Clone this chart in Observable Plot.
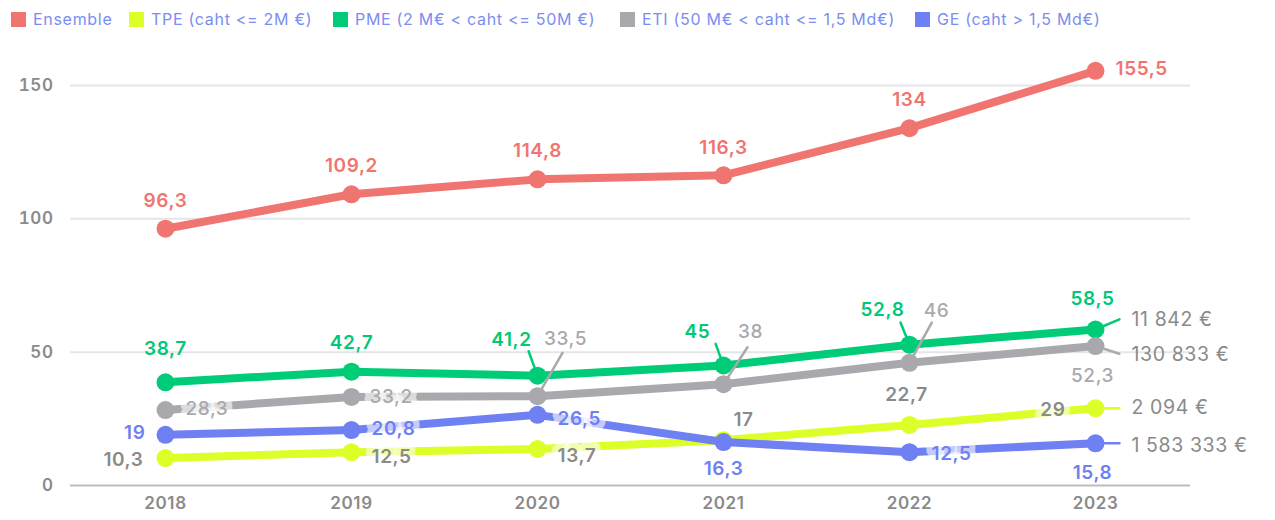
<!DOCTYPE html>
<html><head><meta charset="utf-8">
<script src="https://cdn.jsdelivr.net/npm/d3@7"></script>
<script src="https://cdn.jsdelivr.net/npm/@observablehq/plot@0.6"></script>
<style>
body{margin:0;background:#fff;font-family:Inter, "DejaVu Sans", sans-serif;}
#legend{position:relative;height:34px;}
.item{position:absolute;top:9px;display:flex;align-items:center;font-size:16px;letter-spacing:0.7px;color:#7b8ef0;white-space:nowrap;}
.sw{width:15px;height:15px;margin-right:7px;}
#chart svg text{letter-spacing:0.6px;}
#chart g[aria-label="endlabel"] text{letter-spacing:1.4px;}
</style></head><body>
<div id="legend"></div><div id="chart"></div>
<script>
const years = [2018, 2019, 2020, 2021, 2022, 2023];
const seriesNames = ["Ensemble", "TPE (caht <= 2M €)", "PME (2 M€ < caht <= 50M €)", "ETI (50 M€ < caht <= 1,5 Md€)", "GE (caht > 1,5 Md€)"];
const seriesColors = ["#f07571", "#dcff27", "#00cc78", "#a9a9ad", "#6f80f3"];
const labelColors = ["#f07571", "#8a8a8a", "#00c875", "#a9a9ad", "#6f80f3"];
const ensemble = [96.3, 109.2, 114.8, 116.3, 134, 155.5];
const tpe = [10.3, 12.5, 13.7, 17, 22.7, 29];
const pme = [38.7, 42.7, 41.2, 45, 52.8, 58.5];
const eti = [28.3, 33.2, 33.5, 38, 46, 52.3];
const ge = [19, 20.8, 26.5, 16.3, 12.5, 15.8];
const endLabels = [null, "2 094 €", "11 842 €", "130 833 €", "1 583 333 €"];
const yTicks = [0, 50, 100, 150];

const seriesValues = [ensemble, tpe, pme, eti, ge];

// label placement (styling): [dx, dy, anchor, background]
const labelPlacement = [
  [[0,-28,"middle"],[0,-28,"middle"],[0,-28,"middle"],[0,-27,"middle"],[0,-28,"middle"],[20,-2,"start"]],
  [[-22,2,"end"],[20,5,"start",1],[20,7,"start",1],[20,-20,"middle"],[-3,-30,"middle"],[-30,2,"end",1]],
  [[0,-33,"middle"],[0,-29,"middle"],[-26,-36,"middle"],[-26,-34,"middle"],[-27,-35,"middle"],[-3,-31,"middle"]],
  [[20,-1,"start",1],[18,0,"start",1],[28,-57,"middle"],[27,-52,"middle"],[27,-52,"middle"],[-3,30,"middle"]],
  [[-20,-2,"end"],[20,-1,"start",1],[20,4,"start",1],[0,27,"middle"],[22,2,"start",1],[-3,30,"middle"]]
];
// leader lines (styling): [series, year index, length px, angle deg]
const leaders = [
  [2,2,26,-20],[2,3,23,-20],[2,4,24,-22],[2,5,26,67],
  [3,2,50,30],[3,3,44,33],[3,4,46,29],[3,5,25,108],
  [1,5,24,90],[4,5,24,90]
];
const endDy = [0, 0, -10, 9, 2];

// legend
const legend = document.getElementById("legend");
const legendX = [11, 129, 333, 620, 915];
seriesNames.forEach((n, i) => {
  const it = document.createElement("div");
  it.className = "item";
  it.style.left = legendX[i] + "px";
  it.innerHTML = `<span class="sw" style="background:${seriesColors[i]}"></span><span>${n}</span>`;
  legend.appendChild(it);
});

const rows = seriesNames.flatMap((s, si) => years.map((yr, yi) => ({series: s, si, yi, year: yr, value: seriesValues[si][yi]})));
const fmt = v => String(v).replace(".", ",");

const marks = [
  Plot.ruleY(yTicks.filter(d => d > 0), {stroke: "#e6e6e6", strokeWidth: 2}),
  Plot.ruleY([0], {stroke: "#bdbdbd", strokeWidth: 2}),
  Plot.axisY({ticks: yTicks, tickSize: 0, tickPadding: 17, fontSize: 17, fontWeight: 600, label: null}),
  Plot.axisX({tickSize: 0, tickPadding: 11, fontSize: 17, fontWeight: 600, label: null, tickFormat: d => String(d)})
];
seriesNames.forEach((s, si) => {
  const d = rows.filter(r => r.si === si);
  marks.push(Plot.line(d, {x: "year", y: "value", stroke: seriesColors[si], strokeWidth: 8}));
  marks.push(Plot.dot(d, {x: "year", y: "value", r: 9, fill: seriesColors[si]}));
});
leaders.forEach(([si, yi, len, rot]) => {
  const d = rows.filter(r => r.si === si && r.yi === yi);
  marks.push(Plot.vector(d, {x: "year", y: "value", length: len, rotate: rot, anchor: "start", r: 0, stroke: seriesColors[si], strokeWidth: 2.5}));
});
rows.forEach(r => {
  const [dx, dy, anchor, bg] = labelPlacement[r.si][r.yi];
  const opts = {x: "year", y: "value", text: d => fmt(d.value), dx, dy, textAnchor: anchor,
    fill: labelColors[r.si], fontSize: 19, fontWeight: r.si === 3 ? 500 : 600};
  if (bg) Object.assign(opts, {stroke: "white", strokeOpacity: 0.62, strokeWidth: 12, strokeLinejoin: "round"});
  marks.push(Plot.text([r], opts));
});
endLabels.forEach((lab, si) => {
  if (!lab) return;
  const d = rows.filter(r => r.si === si && r.yi === years.length - 1);
  marks.push(Plot.text(d, {x: "year", y: "value", text: () => lab, dx: 36, dy: endDy[si], textAnchor: "start", fill: "#8a8a8a", fontSize: 19.5, fontWeight: 400, ariaLabel: "endlabel"}));
});

const chart = Plot.plot({
  width: 1275, height: 486,
  marginLeft: 70, marginRight: 85, marginTop: 51, marginBottom: 35,
  x: {type: "point", domain: years, padding: 0.5},
  y: {domain: [0, 150]},
  style: {fontFamily: "Inter, 'DejaVu Sans', sans-serif", color: "#8a8a8a", background: "transparent", overflow: "visible"},
  marks
});
document.getElementById("chart").appendChild(chart);
</script>
</body></html>
